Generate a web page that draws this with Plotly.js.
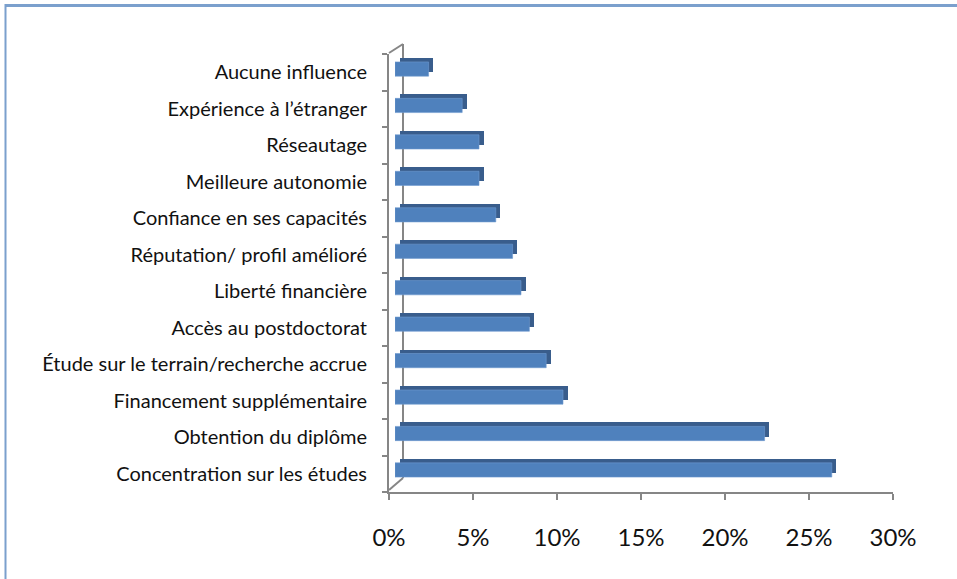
<!DOCTYPE html>
<html>
<head>
<meta charset="utf-8">
<script src="https://cdn.plot.ly/plotly-3.0.1.min.js"></script>
<style>
html,body{margin:0;padding:0;background:#fff;}
#chart{width:957px;height:579px;}
</style>
</head>
<body>
<div id="chart"></div>
<script>
// Data (top to bottom as shown)
const categories = [
  "Aucune influence",
  "Expérience à l’étranger",
  "Réseautage",
  "Meilleure autonomie",
  "Confiance en ses capacités",
  "Réputation/ profil amélioré",
  "Liberté financière",
  "Accès au postdoctorat",
  "Étude sur le terrain/recherche accrue",
  "Financement supplémentaire",
  "Obtention du diplôme",
  "Concentration sur les études"
];
const values = [2, 4, 5, 5, 6, 7, 7.5, 8, 9, 10, 22, 26];
const tickVals = [0, 5, 10, 15, 20, 25, 30];
const tickText = ["0%", "5%", "10%", "15%", "20%", "25%", "30%"];

// layout geometry (pixels)
const W = 957, H = 579;
const M = {l: 380, r: 52, t: 40, b: 85};
const PW = W - M.l - M.r, PH = H - M.t - M.b;
const px = x => (x - M.l) / PW;
const py = y => (H - M.b - y) / PH;

const FONT = "Lato, 'Open Sans', sans-serif";
const frontColor = "#4F81BD";
const darkColor = "#395D8C";
const axisGrey = "#868686";

const catOrder = categories.slice().reverse(); // bottom to top for plotly

const depth = {
  type: "bar", orientation: "h",
  x: values, y: categories,
  xaxis: "x2", yaxis: "y2",
  width: 0.39,
  marker: {color: darkColor, line: {width: 0}},
  hoverinfo: "skip", showlegend: false
};
const front = {
  type: "bar", orientation: "h",
  x: values, y: categories,
  xaxis: "x3", yaxis: "y3",
  width: 0.39,
  marker: {color: frontColor, line: {color: "#6F9AD0", width: 0.6}},
  showlegend: false
};
// invisible trace to set up label axes
const labels = {
  type: "scatter", mode: "markers",
  x: categories.map(() => 0), y: categories,
  xaxis: "x", yaxis: "y",
  marker: {opacity: 0}, hoverinfo: "skip", showlegend: false
};

const hidden = (extra) => Object.assign({
  visible: false, fixedrange: true
}, extra);

const layout = {
  width: W, height: H,
  margin: M,
  paper_bgcolor: "#fff", plot_bgcolor: "rgba(0,0,0,0)",
  showlegend: false,
  bargap: 0,
  xaxis: {
    domain: [px(389), px(893)], range: [0, 30], anchor: "y",
    tickmode: "array", tickvals: tickVals, ticktext: tickText,
    showgrid: false, zeroline: false,
    showline: true, linecolor: axisGrey, linewidth: 2,
    ticks: "outside", ticklen: 6, tickwidth: 2, tickcolor: axisGrey,
    ticklabelstandoff: 17,
    tickfont: {family: FONT, size: 24, color: "#111"}
  },
  yaxis: {
    domain: [py(492), py(54)], anchor: "x",
    type: "category", categoryorder: "array", categoryarray: catOrder,
    range: [-0.5, categories.length - 0.5],
    tickson: "boundaries",
    showgrid: false, zeroline: false,
    showline: true, linecolor: axisGrey, linewidth: 2,
    ticks: "outside", ticklen: 5, tickwidth: 2, tickcolor: axisGrey,
    ticklabelstandoff: 16,
    tickfont: {family: FONT, size: 20, color: "#111"}
  },
  // depth (dark) layer: shifted right and up
  xaxis2: hidden({domain: [px(399.5), px(903.5)], range: [0, 30], anchor: "y2"}),
  yaxis2: hidden({domain: [py(484.2), py(46.8)], anchor: "x2", type: "category",
    categoryorder: "array", categoryarray: catOrder, range: [-0.5, categories.length - 0.5]}),
  // front face layer
  xaxis3: hidden({domain: [px(395), px(899)], range: [0, 30], anchor: "y3"}),
  yaxis3: hidden({domain: [py(488.2), py(50.8)], anchor: "x3", type: "category",
    categoryorder: "array", categoryarray: catOrder, range: [-0.5, categories.length - 0.5]}),
  shapes: [
    // back wall line
    {type: "line", xref: "paper", yref: "paper", x0: px(403), x1: px(403), y0: py(478), y1: py(44),
     line: {color: axisGrey, width: 2}, layer: "below"},
    // top diagonal
    {type: "line", xref: "paper", yref: "paper", x0: px(389), x1: px(403), y0: py(53), y1: py(44),
     line: {color: axisGrey, width: 2}, layer: "below"},
    // bottom diagonal
    {type: "line", xref: "paper", yref: "paper", x0: px(389), x1: px(403), y0: py(490), y1: py(478),
     line: {color: axisGrey, width: 2}, layer: "below"},
    // outer frame (top and left)
    {type: "line", xref: "paper", yref: "paper", x0: px(5), x1: px(960), y0: py(5.5), y1: py(5.5),
     line: {color: "#7BA0CD", width: 3}},
    {type: "line", xref: "paper", yref: "paper", x0: px(5.5), x1: px(5.5), y0: py(4), y1: py(590),
     line: {color: "#7BA0CD", width: 2}}
  ]
};

Plotly.newPlot("chart", [labels, depth, front], layout, {displayModeBar: false, staticPlot: true});
</script>
</body>
</html>
